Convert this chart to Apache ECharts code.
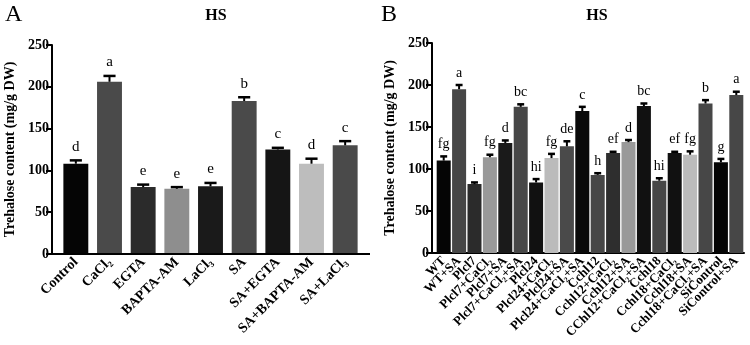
<!DOCTYPE html>
<html>
<head>
<meta charset="utf-8">
<script src="https://cdn.jsdelivr.net/npm/echarts@6/dist/echarts.min.js"></script>
<style>
html, body { margin: 0; padding: 0; background: #fff; }
#main { width: 750px; height: 345px; }
</style>
</head>
<body>
<div id="main"></div>
<script>
// panel A data
var catsA = ['Control', 'CaCl\u2082', 'EGTA', 'BAPTA-AM', 'LaCl\u2083', 'SA', 'SA+EGTA', 'SA+BAPTA-AM', 'SA+LaCl\u2083'];
var meansA = [108, 206, 80, 78, 81, 183, 125, 108, 130];
var errsA = [4, 7, 3, 2, 4, 4.5, 2, 6, 5];
var lettersA = ['d', 'a', 'e', 'e', 'e', 'b', 'c', 'd', 'c'];

// panel B data
var catsB = ['WT', 'WT+SA', 'Plcl7', 'Plcl7+CaCl\u2082', 'Plcl7+SA', 'Plcl7+CaCl\u2082+SA',
    'Plcl24', 'Plcl24+CaCl\u2082', 'Plcl24+SA', 'Plcl24+CaCl\u2082+SA',
    'Cchl12', 'Cchl12+CaCl\u2082', 'Cchl12+SA', 'CChl12+CaCl\u2082+SA',
    'Cchl18', 'Cchl18+CaCl\u2082', 'Cchl18+SA', 'Cchl18+CaCl\u2082+SA',
    'SiControl', 'SiControl+SA'];
var meansB = [110, 195, 82, 114, 131, 174, 84, 113, 127, 169, 93, 119, 132, 175, 86, 119, 117, 178, 108, 188];
var errsB = [5, 5, 2, 3, 3, 3, 4, 5, 6, 5, 2, 1.5, 2.5, 3, 3, 1.5, 4, 4, 4, 4];
var lettersB = ['fg', 'a', 'i', 'fg', 'd', 'bc', 'hi', 'fg', 'de', 'c', 'h', 'ef', 'd', 'bc', 'hi', 'ef', 'fg', 'b', 'g', 'a'];

// bar fills
var colorsA = ['#050505', '#4a4a4a', '#2b2b2b', '#8e8e8e', '#1a1a1a', '#4a4a4a', '#151515', '#bdbdbd', '#4a4a4a'];
var colorsB = ['#050505', '#474747', '#2b2b2b', '#999999', '#1a1a1a', '#474747',
    '#111111', '#bbbbbb', '#4a4a4a', '#0a0a0a',
    '#474747', '#2e2e2e', '#999999', '#111111',
    '#474747', '#111111', '#bbbbbb', '#474747',
    '#050505', '#474747'];

var serif = '"Liberation Serif", "DejaVu Serif", serif';

// layout
var gA = {left: 59, top: 45, width: 303, height: 209, yOff: 7};
var gB = {left: 436, top: 43, width: 308, height: 210, yOff: 4};

var myChart = echarts.init(document.getElementById('main'));

function barData(means, colors) {
    var res = [];
    for (var i = 0; i < means.length; i++) {
        res.push({value: means[i], itemStyle: {color: colors[i]}});
    }
    return res;
}
function errData(means, errs) {
    var res = [];
    for (var i = 0; i < means.length; i++) res.push([i, means[i], errs[i]]);
    return res;
}
function errRender(letters, capFrac, fontSize, gap) {
    return function (params, api) {
        var x = api.value(0), m = api.value(1), e = api.value(2);
        var p0 = api.coord([x, m]);
        var p1 = api.coord([x, m + e]);
        var cw = api.size([1, 0])[0] * capFrac;
        return {
            type: 'group',
            children: [
                {type: 'line', shape: {x1: p0[0], y1: p0[1], x2: p1[0], y2: p1[1]},
                    style: {stroke: '#000', lineWidth: 2}},
                {type: 'line', shape: {x1: p1[0] - cw / 2, y1: p1[1], x2: p1[0] + cw / 2, y2: p1[1]},
                    style: {stroke: '#000', lineWidth: 2.5}},
                {type: 'text', x: p1[0], y: p1[1] - gap,
                    style: {text: letters[params.dataIndex], align: 'center', verticalAlign: 'bottom',
                        fontFamily: serif, fontSize: fontSize, fill: '#000'}}
            ]
        };
    };
}
function xAxisOf(idx, cats, fs) {
    return {
        type: 'category', gridIndex: idx, data: cats,
        axisLine: {lineStyle: {color: '#000', width: 2}},
        axisTick: {alignWithLabel: true, length: 6, lineStyle: {color: '#000', width: 2}},
        axisLabel: {interval: 0, rotate: 45, margin: 6, color: '#000', fontFamily: serif,
            fontWeight: 'bold', fontSize: fs}
    };
}
function yAxisOf(idx, off) {
    return {
        type: 'value', gridIndex: idx, min: 0, max: 250, interval: 50, offset: off,
        name: 'Trehalose content (mg/g DW)', nameLocation: 'middle', nameGap: 35,
        nameTextStyle: {color: '#000', fontFamily: serif, fontWeight: 'bold', fontSize: 14},
        axisLine: {show: true, lineStyle: {color: '#000', width: 2}},
        axisTick: {show: true, length: 6, lineStyle: {color: '#000', width: 2}},
        axisLabel: {color: '#000', fontFamily: serif, fontWeight: 'bold', fontSize: 14, margin: 3},
        splitLine: {show: false}
    };
}

var option = {
    backgroundColor: '#fff',
    animation: false,
    title: [
        {text: 'A', left: 0, top: -2, textStyle: {fontFamily: serif, fontWeight: 'normal', fontSize: 24, color: '#000'}},
        {text: 'HS', left: 211, top: 3, textAlign: 'center', textStyle: {fontFamily: serif, fontWeight: 'bold', fontSize: 16, color: '#000'}},
        {text: 'B', left: 376, top: -2, textStyle: {fontFamily: serif, fontWeight: 'normal', fontSize: 24, color: '#000'}},
        {text: 'HS', left: 592, top: 3, textAlign: 'center', textStyle: {fontFamily: serif, fontWeight: 'bold', fontSize: 16, color: '#000'}}
    ],
    grid: [
        {left: gA.left, top: gA.top, width: gA.width, height: gA.height},
        {left: gB.left, top: gB.top, width: gB.width, height: gB.height}
    ],
    xAxis: [xAxisOf(0, catsA, 14), xAxisOf(1, catsB, 13)],
    yAxis: [yAxisOf(0, gA.yOff), yAxisOf(1, gB.yOff)],
    series: [
        {type: 'bar', xAxisIndex: 0, yAxisIndex: 0, barCategoryGap: '26%', data: barData(meansA, colorsA)},
        {type: 'custom', xAxisIndex: 0, yAxisIndex: 0, z: 5, renderItem: errRender(lettersA, 0.36, 15, 6),
            encode: {x: 0, y: 1}, data: errData(meansA, errsA)},
        {type: 'bar', xAxisIndex: 1, yAxisIndex: 1, barCategoryGap: '9%', data: barData(meansB, colorsB)},
        {type: 'custom', xAxisIndex: 1, yAxisIndex: 1, z: 5, renderItem: errRender(lettersB, 0.45, 14, 5),
            encode: {x: 0, y: 1}, data: errData(meansB, errsB)}
    ],
    graphic: [
        // x axis lines run from the offset y axis, and a bit past the last bar in A
        {type: 'line', z: 10, shape: {x1: gA.left - gA.yOff, y1: gA.top + gA.height, x2: gA.left + gA.width + 8, y2: gA.top + gA.height},
            style: {stroke: '#000', lineWidth: 2}},
        {type: 'line', z: 10, shape: {x1: gB.left - gB.yOff, y1: gB.top + gB.height, x2: gB.left + 1, y2: gB.top + gB.height},
            style: {stroke: '#000', lineWidth: 2}}
    ]
};
myChart.setOption(option);
</script>
</body>
</html>
